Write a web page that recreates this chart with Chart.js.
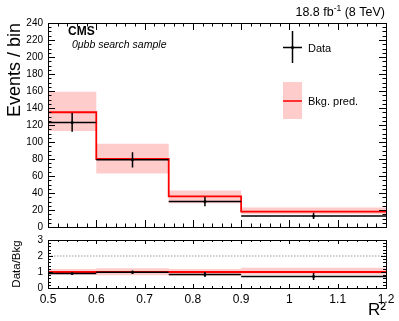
<!DOCTYPE html>
<html>
<head>
<meta charset="utf-8">
<script src="https://cdn.jsdelivr.net/npm/chart.js@4.4.1/dist/chart.umd.min.js"></script>
<style>
body { margin: 0; background: #fff; }
#wrap { position: relative; width: 399px; height: 321px; }
canvas { position: absolute; left: 0; }
</style>
</head>
<body>
<div id="wrap">
  <canvas id="mainChart" width="399" height="240" style="top:0"></canvas>
  <canvas id="ratioChart" width="399" height="93" style="top:228px"></canvas>
</div>
<script>
// bins in R^2
const binEdges = [0.5, 0.6, 0.75, 0.9, 1.2];
const binCenters = [0.55, 0.675, 0.825, 1.05];

// top panel
const bkgPred = [135, 80, 36, 18];
const bkgUp = [159, 98, 43, 23];
const bkgDown = [113, 63, 28, 15];
const dataCounts = [123, 79, 30, 13];
const dataErr = [11, 9, 5.5, 3.7];

// ratio panel
const ratioBkg = [1, 1, 1, 1];
const ratioBandUp = [1.18, 1.23, 1.19, 1.26];
const ratioBandDown = [0.84, 0.79, 0.77, 0.83];
const ratioVals = [0.91, 0.99, 0.84, 0.72];
const ratioErr = [0.08, 0.11, 0.16, 0.22];
const ratioRefLine = [2, 2];

// ticks
const xTicks = [0.5, 0.6, 0.7, 0.8, 0.9, 1.0, 1.1, 1.2];
const xTickLabels = ['0.5', '0.6', '0.7', '0.8', '0.9', '1', '1.1', '1.2'];
const mainYTicks = [0, 20, 40, 60, 80, 100, 120, 140, 160, 180, 200, 220, 240];
const ratioYTicks = [0, 1, 2, 3];

const FONT = "'Liberation Sans', Arial, Helvetica, sans-serif";
const PINK = 'rgb(255,204,204)';

// histogram as stepped line through the bin edges
function stepPoints(values) {
    return binEdges.map((x, i) => ({ x: x, y: values[Math.min(i, values.length - 1)] }));
}

// horizontal bin-width bar + vertical error bar per bin, gaps between
function errorPath(values, errs) {
    const pts = [];
    values.forEach((v, i) => {
        pts.push({ x: binEdges[i], y: v }, { x: binEdges[i + 1], y: v }, { x: binCenters[i], y: null });
        pts.push({ x: binCenters[i], y: v - errs[i] }, { x: binCenters[i], y: v + errs[i] }, { x: binCenters[i], y: null });
    });
    return pts;
}

function centerPoints(values) {
    return values.map((v, i) => ({ x: binCenters[i], y: v }));
}

// ROOT style frame with inward ticks on all four sides
const frameTicks = {
    id: 'frameTicks',
    afterDatasetsDraw(chart, args, opts) {
        const { ctx, chartArea: a, scales } = chart;
        const xs = scales.x, ys = scales.y;
        ctx.save();
        ctx.strokeStyle = '#000';
        ctx.lineWidth = 1;
        ctx.beginPath();
        for (let k = 0; k <= 35; k++) {
            const px = Math.round(xs.getPixelForValue(0.5 + k * 0.02)) + 0.5;
            const len = k % 5 === 0 ? opts.xMajor : opts.xMinor;
            ctx.moveTo(px, a.bottom); ctx.lineTo(px, a.bottom - len);
            ctx.moveTo(px, a.top); ctx.lineTo(px, a.top + len);
        }
        const nY = Math.round(opts.yMax / opts.yMinorStep);
        for (let k = 0; k <= nY; k++) {
            const py = Math.round(ys.getPixelForValue(k * opts.yMinorStep)) + 0.5;
            const len = k % opts.yPerMajor === 0 ? opts.yMajor : opts.yMinor;
            ctx.moveTo(a.left, py); ctx.lineTo(a.left + len, py);
            ctx.moveTo(a.right, py); ctx.lineTo(a.right - len, py);
        }
        ctx.stroke();
        ctx.strokeRect(Math.round(a.left) + 0.5, Math.round(a.top) + 0.5, Math.round(a.width), Math.round(a.height));
        ctx.restore();
    }
};

// CMS label, lumi text and legend
const labels = {
    id: 'labels',
    afterDraw(chart) {
        const ctx = chart.ctx;
        ctx.save();
        ctx.fillStyle = '#000';
        ctx.textBaseline = 'alphabetic';

        // lumi text, right aligned
        const part1 = '18.8 fb', sup = '-1', part2 = ' (8 TeV)';
        ctx.font = '12.5px ' + FONT;
        const w1 = ctx.measureText(part1).width, w3 = ctx.measureText(part2).width;
        ctx.font = '8.5px ' + FONT;
        const w2 = ctx.measureText(sup).width;
        let x = 385 - (w1 + w2 + w3);
        ctx.font = '12.5px ' + FONT;
        ctx.fillText(part1, x, 16);
        ctx.font = '8.5px ' + FONT;
        ctx.fillText(sup, x + w1, 11);
        ctx.font = '12.5px ' + FONT;
        ctx.fillText(part2, x + w1 + w2, 16);

        ctx.font = 'bold 12px ' + FONT;
        ctx.fillText('CMS', 68, 35);
        ctx.font = 'italic 10.5px ' + FONT;
        ctx.fillText('0\u03bcbb search sample', 72, 48);

        // legend: data
        ctx.strokeStyle = '#000';
        ctx.lineWidth = 1.5;
        ctx.beginPath();
        ctx.moveTo(292.5, 31); ctx.lineTo(292.5, 63);
        ctx.moveTo(283, 47.5); ctx.lineTo(302, 47.5);
        ctx.stroke();
        ctx.beginPath();
        ctx.arc(292.5, 47.5, 1.5, 0, Math.PI * 2);
        ctx.fill();
        ctx.font = '11px ' + FONT;
        ctx.fillText('Data', 308, 52);

        // legend: bkg
        ctx.fillStyle = PINK;
        ctx.fillRect(283, 82, 19, 37);
        ctx.strokeStyle = '#ff0000';
        ctx.lineWidth = 1.5;
        ctx.beginPath();
        ctx.moveTo(283, 101); ctx.lineTo(302, 101);
        ctx.stroke();
        ctx.fillStyle = '#000';
        ctx.fillText('Bkg. pred.', 308, 105);
        ctx.restore();
    }
};

function histDatasets(up, down, central, vals, errs) {
    return [
        { data: errorPath(vals, errs), borderColor: '#000', borderWidth: 1.5, pointRadius: 0, spanGaps: false, fill: false, order: 0 },
        { data: centerPoints(vals), borderColor: '#000', backgroundColor: '#000', showLine: false, pointRadius: 1.5, pointBorderWidth: 0, order: 0 },
        { data: stepPoints(central), stepped: 'before', borderColor: '#ff0000', borderWidth: 1.8, pointRadius: 0, fill: false, order: 1 },
        { data: stepPoints(up), stepped: 'before', borderWidth: 0, borderColor: 'rgba(0,0,0,0)', backgroundColor: PINK, pointRadius: 0, fill: '+1', order: 3 },
        { data: stepPoints(down), stepped: 'before', borderWidth: 0, borderColor: 'rgba(0,0,0,0)', pointRadius: 0, fill: false, order: 3 }
    ];
}

const baseOptions = {
    responsive: false,
    animation: false,
    devicePixelRatio: 1,
    plugins: { legend: { display: false }, tooltip: { enabled: false } }
};

new Chart(document.getElementById('mainChart'), {
    type: 'line',
    data: { datasets: histDatasets(bkgUp, bkgDown, bkgPred, dataCounts, dataErr) },
    options: {
        ...baseOptions,
        layout: { padding: { top: 23, right: 13, bottom: 13, left: 0 } },
        scales: {
            x: { type: 'linear', min: 0.5, max: 1.2, display: false },
            y: {
                min: 0, max: 240,
                grid: { display: false, drawTicks: false },
                border: { display: false },
                afterFit(scale) { scale.width = 48; },
                afterBuildTicks(scale) { scale.ticks = mainYTicks.map(v => ({ value: v })); },
                ticks: { color: '#000', padding: 5, font: { family: FONT, size: 10 } },
                title: { display: true, text: 'Events / bin', align: 'end', color: '#000', padding: { top: 4, bottom: 0 }, font: { family: FONT, size: 18 } }
            }
        },
        plugins: { ...baseOptions.plugins, frameTicks: { xMajor: 7, xMinor: 3.5, yMajor: 7, yMinor: 3.5, yMax: 240, yMinorStep: 5, yPerMajor: 4 } }
    },
    plugins: [frameTicks, labels]
});

const ratioSets = histDatasets(ratioBandUp, ratioBandDown, ratioBkg, ratioVals, ratioErr);
ratioSets.push({
    data: ratioRefLine.map((v, i) => ({ x: [binEdges[0], binEdges[binEdges.length - 1]][i], y: v })),
    borderColor: '#999', borderWidth: 1, borderDash: [1.5, 1.5], pointRadius: 0, fill: false, order: 2
});

new Chart(document.getElementById('ratioChart'), {
    type: 'line',
    data: { datasets: ratioSets },
    options: {
        ...baseOptions,
        layout: { padding: { top: 12, right: 13, bottom: 0, left: 0 } },
        scales: {
            x: {
                type: 'linear', min: 0.5, max: 1.2,
                grid: { display: false, drawTicks: false },
                border: { display: false },
                afterFit(scale) { scale.height = 33; },
                afterBuildTicks(scale) { scale.ticks = xTicks.map(v => ({ value: v })); },
                ticks: {
                    color: '#000', padding: 4, maxRotation: 0, autoSkip: false,
                    font: { family: FONT, size: 12 },
                    callback: (v, i) => xTickLabels[i]
                },
                title: { display: true, text: 'R\u00b2', align: 'end', color: '#000', padding: { top: 0, bottom: 0 }, font: { family: FONT, size: 17 } }
            },
            y: {
                min: 0, max: 3,
                grid: { display: false, drawTicks: false },
                border: { display: false },
                afterFit(scale) { scale.width = 48; },
                afterBuildTicks(scale) { scale.ticks = ratioYTicks.map(v => ({ value: v })); },
                ticks: { color: '#000', padding: 5, font: { family: FONT, size: 10 } },
                title: { display: true, text: 'Data/Bkg', color: '#000', padding: { top: 10, bottom: 0 }, font: { family: FONT, size: 11.5 } }
            }
        },
        plugins: { ...baseOptions.plugins, frameTicks: { xMajor: 4, xMinor: 2, yMajor: 5, yMinor: 3, yMax: 3, yMinorStep: 0.2, yPerMajor: 5 } }
    },
    plugins: [frameTicks]
});
</script>
</body>
</html>
